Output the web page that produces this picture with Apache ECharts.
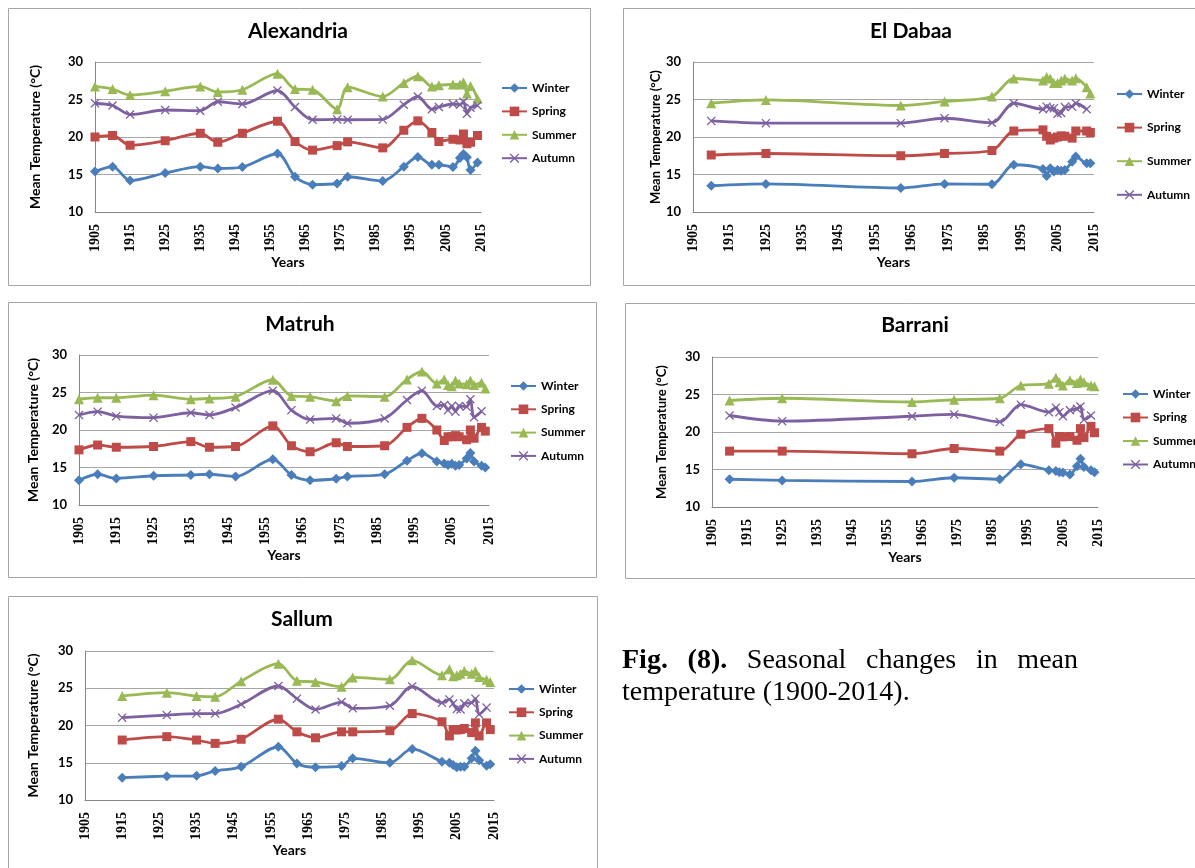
<!DOCTYPE html>
<html>
<head>
<meta charset="utf-8">
<script src="https://cdn.jsdelivr.net/npm/echarts@6/dist/echarts.min.js"></script>
<style>
  html, body { margin: 0; padding: 0; background: #fff; }
  #main { position: absolute; left: 0; top: 0; width: 1195px; height: 868px; }
  #caption {
    position: absolute; left: 622px; top: 643px; width: 456px;
    font-family: "Liberation Serif", "Times New Roman", serif;
    font-size: 28px; line-height: 32px; text-align: justify; color: #000;
  }
</style>
</head>
<body>
<div id="main"></div>
<div id="caption"><b>Fig. (8).</b> Seasonal changes in mean temperature (1900-2014).</div>
<script>
// ---- data ----
var seasonNames = ['Winter', 'Spring', 'Summer', 'Autumn'];

var alexYears  = [1905,1910,1915,1925,1935,1940,1947,1957,1962,1967,1974,1977,1987,1993,1997,2001,2003,2007,2009,2010,2011,2012,2014];
var alexWinter = [15.4,16.05,14.2,15.2,16.05,15.8,16.0,17.8,14.7,13.65,13.8,14.7,14.15,16.05,17.35,16.3,16.3,16.0,17.2,17.75,17.3,15.6,16.6];
var alexSpring = [20.0,20.2,18.9,19.5,20.5,19.3,20.5,22.1,19.4,18.25,18.85,19.35,18.55,20.9,22.15,20.6,19.4,19.7,19.6,20.4,19.1,19.3,20.2];
var alexSummer = [26.75,26.4,25.6,26.1,26.75,26.0,26.3,28.45,26.4,26.3,23.7,26.65,25.4,27.2,28.1,26.75,26.9,27.0,27.0,27.3,25.8,26.8,25.1];
var alexAutumn = [24.5,24.2,23.0,23.6,23.5,24.7,24.4,26.2,24.0,22.3,22.35,22.3,22.35,24.3,25.4,23.7,24.0,24.4,24.3,24.7,23.1,23.9,24.2];

var dabaaYears  = [1910,1925,1962,1974,1987,1993,2001,2002,2003,2004,2005,2006,2007,2009,2010,2013,2014];
var dabaaWinter = [13.5,13.75,13.2,13.75,13.7,16.3,15.75,14.8,15.85,15.4,15.6,15.5,15.6,16.7,17.4,16.5,16.5];
var dabaaSpring = [17.6,17.8,17.5,17.8,18.2,20.8,20.95,20.1,19.6,19.85,20.0,20.15,20.1,19.85,20.8,20.8,20.6];
var dabaaSummer = [24.5,24.95,24.2,24.75,25.4,27.8,27.55,28.0,27.8,27.2,27.2,27.55,27.8,27.55,27.85,26.65,25.8];
var dabaaAutumn = [22.15,21.85,21.85,22.5,21.9,24.5,23.7,24.05,23.85,23.85,23.1,23.2,24.0,24.05,24.5,23.7,null];

var matruhYears  = [1905,1910,1915,1925,1935,1940,1947,1957,1962,1967,1974,1977,1987,1993,1997,2001,2003,2004,2005,2006,2007,2009,2010,2011,2013,2014];
var matruhWinter = [13.3,14.1,13.55,13.9,14.0,14.1,13.8,16.1,14.0,13.3,13.5,13.8,14.1,15.9,16.9,15.8,15.55,15.35,15.5,15.25,15.35,16.2,16.95,15.8,15.25,15.0];
var matruhSpring = [17.35,18.0,17.7,17.8,18.45,17.7,17.8,20.55,17.9,17.1,18.3,17.8,17.9,20.35,21.55,20.0,18.6,19.1,19.1,19.25,19.1,18.7,20.0,18.9,20.35,19.85];
var matruhSummer = [24.1,24.3,24.3,24.65,24.1,24.2,24.45,26.7,24.55,24.45,23.85,24.55,24.45,26.75,27.8,26.2,26.75,26.0,25.85,26.6,26.2,26.1,26.6,26.0,26.3,25.55];
var matruhAutumn = [22.0,22.45,21.85,21.65,22.3,22.0,23.0,25.25,22.65,21.4,21.55,20.9,21.55,24.0,25.25,23.2,23.35,22.65,23.2,22.45,23.2,23.1,24.1,21.7,22.5,null];

var barraniYears  = [1910,1925,1962,1974,1987,1993,2001,2003,2004,2005,2007,2009,2010,2011,2013,2014];
var barraniWinter = [13.7,13.55,13.4,13.9,13.7,15.7,14.9,14.8,14.65,14.6,14.35,15.45,16.45,15.35,14.9,14.65];
var barraniSpring = [17.45,17.45,17.1,17.8,17.45,19.7,20.45,18.5,19.4,19.35,19.4,18.9,20.45,19.25,20.75,19.9];
var barraniSummer = [24.2,24.5,24.0,24.3,24.5,26.2,26.45,27.25,26.65,26.2,26.9,26.55,27.0,26.65,26.2,26.1];
var barraniAutumn = [22.2,21.45,22.1,22.35,21.35,23.65,22.65,23.25,22.65,22.1,22.9,23.1,23.4,21.65,22.2,null];

var sallumYears  = [1915,1927,1935,1940,1947,1957,1962,1967,1974,1977,1987,1993,2001,2003,2004,2005,2006,2007,2009,2010,2011,2013,2014];
var sallumWinter = [13.0,13.2,13.25,13.9,14.45,17.15,14.9,14.4,14.55,15.6,15.0,16.85,15.15,15.0,14.7,14.4,14.45,14.45,15.6,16.6,15.35,14.6,14.8];
var sallumSpring = [18.05,18.5,18.05,17.6,18.15,20.85,19.15,18.35,19.15,19.15,19.3,21.6,20.5,18.6,19.45,19.4,19.45,19.6,19.05,20.35,18.6,20.35,19.45];
var sallumSummer = [23.95,24.4,23.95,23.85,25.95,28.3,26.0,25.85,25.2,26.45,26.2,28.75,26.75,27.55,26.6,26.75,26.95,27.3,26.95,27.3,26.5,26.15,25.85];
var sallumAutumn = [21.05,21.4,21.6,21.6,22.85,25.3,23.6,22.15,23.15,22.3,22.65,25.25,23.05,23.5,22.95,22.2,22.15,22.95,23.05,23.6,21.5,22.4,null];

var stations = [
  { name: 'Alexandria', years: alexYears,    values: [alexWinter, alexSpring, alexSummer, alexAutumn] },
  { name: 'El Dabaa',   years: dabaaYears,   values: [dabaaWinter, dabaaSpring, dabaaSummer, dabaaAutumn] },
  { name: 'Matruh',     years: matruhYears,  values: [matruhWinter, matruhSpring, matruhSummer, matruhAutumn] },
  { name: 'Barrani',    years: barraniYears, values: [barraniWinter, barraniSpring, barraniSummer, barraniAutumn] },
  { name: 'Sallum',     years: sallumYears,  values: [sallumWinter, sallumSpring, sallumSummer, sallumAutumn] }
];

// ---- layout of each panel (pixels) ----
var layouts = [
  { box: [8, 8, 582, 277],   grid: [95, 62, 386, 150],  title: [298, 21],  legend: [501, 81, 9.4],   yGap: 53, yFont: 14 },
  { box: [623, 8, 600, 277], grid: [693, 62, 401, 150], title: [911, 21],  legend: [1116, 87, 19.6], yGap: 31, yFont: 13 },
  { box: [8, 302, 588, 275], grid: [79, 355, 410, 150], title: [300, 314], legend: [510, 379, 9.3],  yGap: 39, yFont: 14 },
  { box: [625, 303, 600, 275], grid: [712, 357, 386, 150], title: [915, 315], legend: [1122, 387, 9.5], yGap: 44, yFont: 13 },
  { box: [8, 596, 589, 300], grid: [85, 651, 409, 149], title: [302, 609], legend: [508, 682, 9.3],  yGap: 45, yFont: 14 }
];

var seasonColors = ['#4A7EBB', '#BE4B48', '#98B954', '#7D60A0'];
var seasonSymbols = ['diamond', 'rect', 'triangle',
  'path://M0,1L1,0L5,4L9,0L10,1L6,5L10,9L9,10L5,6L1,10L0,9L4,5Z'];
var seasonSizes = [10, 9, 10, 9];

var sansFont = 'Lato, "Liberation Sans", sans-serif';
var serifFont = '"Liberation Serif", "Times New Roman", serif';

var grids = [], xAxes = [], yAxes = [], series = [], titles = [], legends = [], graphics = [];

stations.forEach(function (st, k) {
  var L = layouts[k];
  graphics.push({
    type: 'rect', silent: true,
    shape: { x: L.box[0] + 0.5, y: L.box[1] + 0.5, width: L.box[2], height: L.box[3] },
    style: { fill: 'none', stroke: '#a6a6a6', lineWidth: 1 }
  });
  grids.push({ left: L.grid[0], top: L.grid[1], width: L.grid[2], height: L.grid[3] });
  titles.push({
    text: st.name, left: L.title[0], top: L.title[1], textAlign: 'center', padding: 0,
    textStyle: { fontFamily: sansFont, fontWeight: 'bold', fontSize: 21, color: '#000' }
  });
  legends.push({
    data: seasonNames, orient: 'vertical', left: L.legend[0], top: L.legend[1],
    itemGap: L.legend[2], itemWidth: 25, itemHeight: 12, padding: 0, selectedMode: false,
    textStyle: { fontFamily: sansFont, fontWeight: 'bold', fontSize: 12, lineHeight: 14, color: '#000' }
  });
  xAxes.push({
    gridIndex: k, type: 'value', min: 1905, max: 2015, interval: 10,
    name: 'Years', nameLocation: 'middle', nameGap: 41,
    nameTextStyle: { fontFamily: sansFont, fontWeight: 'bold', fontSize: 14, color: '#000' },
    axisLine: { show: true, lineStyle: { color: '#868686', width: 1 } },
    axisTick: { show: false },
    axisLabel: {
      rotate: 90, margin: 12, fontFamily: serifFont, fontWeight: 'bold', fontSize: 14, color: '#000',
      formatter: function (v) { return String(v); }
    },
    splitLine: { show: false }
  });
  yAxes.push({
    gridIndex: k, type: 'value', min: 10, max: 30, interval: 5,
    name: 'Mean Temperature (°C)', nameLocation: 'middle', nameGap: L.yGap, nameRotate: 90,
    nameTextStyle: { fontFamily: sansFont, fontWeight: 'bold', fontSize: L.yFont, color: '#000' },
    axisLine: { show: true, lineStyle: { color: '#868686', width: 1 } },
    axisTick: { show: false },
    axisLabel: { margin: 12, fontFamily: sansFont, fontWeight: 'bold', fontSize: 13, color: '#000' },
    splitLine: { show: true, lineStyle: { color: '#a6a6a6', width: 1 } }
  });
  st.values.forEach(function (vals, s) {
    var pts = st.years.map(function (y, i) { return [y, vals[i]]; })
      .filter(function (p) { return p[1] != null; });
    series.push({
      name: seasonNames[s], type: 'line', xAxisIndex: k, yAxisIndex: k,
      data: pts, smooth: 0.3, symbol: seasonSymbols[s], symbolSize: seasonSizes[s],
      lineStyle: { color: seasonColors[s], width: 2.8 },
      itemStyle: { color: seasonColors[s] },
      animation: false
    });
  });
});

var chart = echarts.init(document.getElementById('main'), null, { renderer: 'canvas' });
chart.setOption({
  backgroundColor: '#fff',
  animation: false,
  title: titles,
  legend: legends,
  grid: grids,
  xAxis: xAxes,
  yAxis: yAxes,
  series: series,
  graphic: graphics
});
window.addEventListener('resize', function () { chart.resize(); });
</script>
</body>
</html>
